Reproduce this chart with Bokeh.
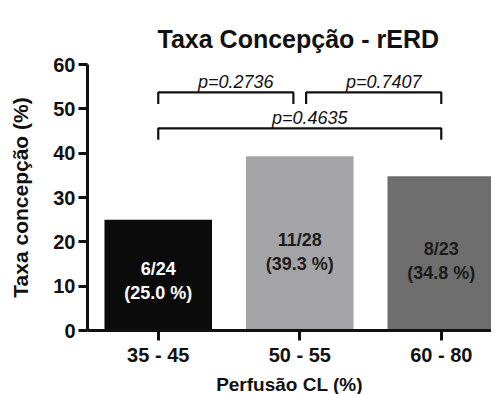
from bokeh.plotting import figure
from bokeh.models import Range1d, ColumnDataSource, FixedTicker
from bokeh.core.properties import value
from bokeh.embed import file_html
from bokeh.resources import INLINE

# ---- data ----
categories = ["35 - 45", "50 - 55", "60 - 80"]
rates = [25.0, 39.3, 34.8]
counts = ["6/24", "11/28", "8/23"]
comp_pairs = [(0, 1), (1, 2), (0, 2)]
comp_heights = [53.7, 53.7, 45.6]
comp_p = ["p=0.2736", "p=0.7407", "p=0.4635"]
y_ticks = [0, 10, 20, 30, 40, 50, 60]

FONT = "Liberation Sans"
bar_colors = ["#0b0b0b", "#a4a4a6", "#6e6e6e"]
text_colors = ["#ffffff", "#1c1c1c", "#1c1c1c"]

xs = [i + 0.5 for i in range(len(categories))]

p = figure(frame_width=404, frame_height=266, output_backend="svg", toolbar_location=None,
           x_range=Range1d(0, 2.855), y_range=Range1d(0, 60),
           min_border_left=87, min_border_right=0, min_border_top=64, min_border_bottom=48,
           title="Taxa Concepção - rERD")
p.outline_line_color = None
p.border_fill_color = "white"
p.grid.visible = False
p.background_fill_color = "white"

p.title.text_font = FONT
p.title.text_font_size = "25px"
p.title.text_font_style = "bold"
p.title.align = "left"
p.title.offset = 70
p.title.vertical_align = "top"
p.title.standoff = 20
p.title.text_color = "#111111"

src = ColumnDataSource(dict(x=xs, top=rates, color=bar_colors,
                            label=[f"{c}\n({r:.1f} %)" for c, r in zip(counts, rates)],
                            ly=[r * 0.45 for r in rates], tcolor=text_colors))
p.vbar(x="x", top="top", width=0.76, bottom=0, fill_color="color", line_color=None, source=src)
p.text(x="x", y="ly", text="label", source=src, text_align="center", text_baseline="middle",
       text_font=value(FONT), text_font_style="bold", text_font_size="18px",
       text_color="tcolor", text_line_height=1.2)

# significance brackets
gap = 0.045
drop = 2.6
bx, by, tx, ty = [], [], [], []
for (i, j), h in zip(comp_pairs, comp_heights):
    left, right = xs[i], xs[j]
    if j - i == 1:
        if j == 1:
            right -= gap
        if i == 1:
            left += gap
    bx.append([left, left, right, right])
    by.append([h - drop, h, h, h - drop])
    tx.append((left + right) / 2)
    ty.append(h)
p.multi_line(bx, by, line_color="#111111", line_width=2.2)
p.text(x=tx, y=ty, text=comp_p, text_align="center", text_baseline="bottom", x_offset=10,
       text_font=value(FONT), text_font_style="italic", text_font_size="18px", text_color="#111111")

# axes
for ax in (p.xaxis[0], p.yaxis[0]):
    ax.axis_line_width = 3
    ax.axis_line_color = "#111111"
    ax.major_tick_line_width = 3
    ax.major_tick_line_color = "#111111"
    ax.major_tick_in = 0
    ax.minor_tick_line_color = None
    ax.major_label_text_font = FONT
    ax.major_label_text_font_style = "bold"
    ax.major_label_text_font_size = "20px"
    ax.major_label_text_color = "#111111"
    ax.axis_label_text_font = FONT
    ax.axis_label_text_font_style = "bold"
    ax.axis_label_text_color = "#111111"

p.yaxis.ticker = FixedTicker(ticks=y_ticks)
p.yaxis.major_tick_out = 9
p.yaxis.major_label_standoff = 3
p.yaxis.axis_label = "Taxa concepção (%)"
p.yaxis.axis_label_text_font_size = "21px"
p.yaxis.axis_label_standoff = 18

p.xaxis.ticker = FixedTicker(ticks=xs)
p.xaxis.major_label_overrides = {x: c for x, c in zip(xs, categories)}
p.xaxis.major_tick_out = 10
p.xaxis.major_label_standoff = 3
p.xaxis.axis_label = "Perfusão CL (%)"
p.xaxis.axis_label_text_font_size = "19px"
p.xaxis.axis_label_standoff = 5

open("out.html", "w").write(file_html(p, INLINE))
